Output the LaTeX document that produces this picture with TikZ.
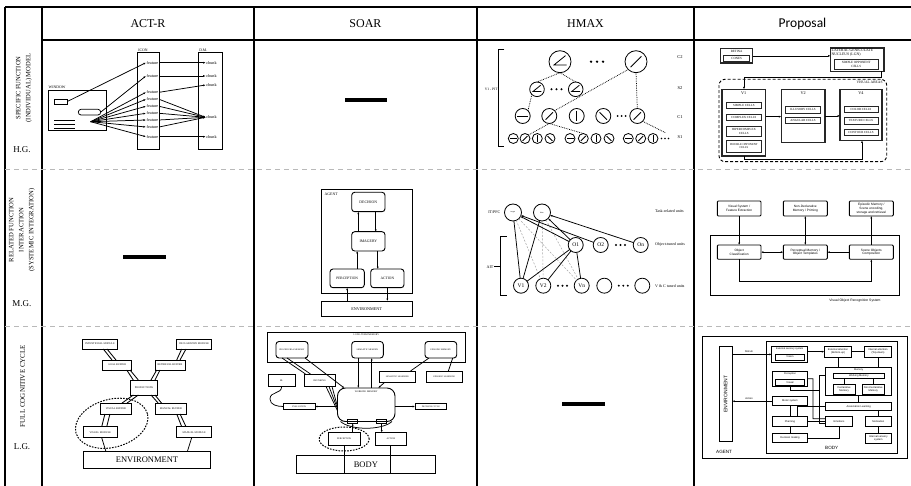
\documentclass[tikz,border=0pt]{standalone}
\usepackage{fontspec}
\setmainfont{Liberation Serif}
\newfontfamily\sansfam{Liberation Sans}
\newfontfamily\headfam{Carlito}
\usetikzlibrary{calc,arrows.meta,shapes.geometric}

\newcommand{\fs}[2]{\fontsize{#1}{#2}\selectfont}
\newcommand{\tinytxt}{\fs{2.6}{3}}
% box from its two corners
\newcommand{\cellbox}[7][]{%
  \node[Box,#1,minimum width={(#5-#3)*1pt},minimum height={(#6-#4)*1pt}]
    (#2) at ({(#3+#5)/2},{(#4+#6)/2}) {#7};}
% HMAX unit: name, x, y, radius, angle of the bar
\newcommand{\hunit}[5]{%
  \node[hcirc,minimum size={#4*2pt}] (#1) at (#2,#3) {};
  \draw[line width=0.8pt] ([shift={({#5}:{#4*0.7pt})}]#1.center) -- ([shift={({#5+180}:{#4*0.7pt})}]#1.center);}
\newcommand{\hangle}[4]{%
  \node[hcirc,minimum size={#4*2pt}] (#1) at (#2,#3) {};
  \draw[line width=0.8pt] ([shift={({0.5*#4pt},{0.55*#4pt})}]#1.center) -- ([shift={({-0.55*#4pt},{-0.3*#4pt})}]#1.center) -- ([shift={({0.6*#4pt},{-0.3*#4pt})}]#1.center);}
\newcommand{\dotrow}[4]{%
  \foreach \jj in {-1,0,1} \fill ({#1+\jj*#3},#2) circle [radius=#4pt];}

\tikzset{
  Box/.style={draw, inner sep=0pt, outer sep=0pt, align=center, line width=0.75pt, font=\tinytxt},
  RBox/.style={Box, rounded corners=3pt},
  DBox/.style={Box, line width=1.1pt, draw=black!85},
  SBox/.style={Box, rounded corners=1pt, line width=0.9pt, font=\sansfam\fs{3.2}{3.7}},
  PBox/.style={Box, line width=0.8pt, font=\sansfam\fs{2.6}{3}},
  hcirc/.style={circle, draw, inner sep=0pt, outer sep=0pt, line width=0.8pt},
  Conn/.style={line width=0.75pt},
  arr/.style={Conn, -{Latex[length=2.4pt,width=2pt]}},
  arrb/.style={Conn, {Latex[length=2.4pt,width=2pt]}-{Latex[length=2.4pt,width=2pt]}},
  Dot/.style={densely dotted, line width=0.75pt},
  Grid/.style={line width=1.2pt},
  RowSep/.style={gray!55, line width=0.7pt, dash pattern=on 5pt off 4pt},
  RowLbl/.style={rotate=90, align=center, inner sep=0pt, font=\fs{6.6}{10}},
  Lvl/.style={inner sep=0pt, font=\fs{9}{10}},
  Bar/.style={fill=black},
}

\begin{document}
\begin{tikzpicture}[x=1pt,y=-1pt]
\useasboundingbox (0,0) rectangle (911,486);

% table
\draw[Grid] (5,7) -- (911,7);
\foreach \x in {5,42,254,477,694} \draw[Grid] (\x,7) -- (\x,486);
\draw[Grid] (42,40) -- (911,40);
\draw[RowSep] (5,169) -- (911,169);
\draw[RowSep] (5,326) -- (911,326);

\node[font=\fs{12}{13}] (hdACTR) at (148,24) {ACT-R};
\node[font=\fs{12}{13}] (hdSOAR) at (365.5,24) {SOAR};
\node[font=\fs{12}{13}] (hdHMAX) at (585.5,24) {HMAX};
\node[font=\headfam\fs{13.5}{15}] (hdProp) at (802.5,24) {Proposal};

\node[RowLbl] (rlSpec) at (24,88) {SPECIFIC FUNCTION\\(INDIVIDUAL) MODEL};
\node[Lvl] (lvHG) at (22,150) {H.G.};
\node[RowLbl] (rlRel) at (22,230) {RELATED FUNCTION\\INTERACTION\\(SYSTEMIC INTEGRATION)};
\node[Lvl] (lvMG) at (22,304) {M.G.};
\node[RowLbl, font=\fs{7}{9}] (rlFull) at (22.5,386) {FULL COGNITIVE CYCLE};
\node[Lvl] (lvLG) at (22,447) {L.G.};

% ACT-R, specific function
\node[anchor=south west, inner sep=0pt, font=\fs{3.8}{4}] (arWinL) at (48.5,88.5) {WINDOW};
\cellbox[line width=0.9pt]{arWin}{48.3}{90}{106.7}{130.7}{}
\cellbox{arWinA}{54}{99}{67.3}{104}{}
\cellbox[rounded corners=2.8pt]{arWinB}{78.3}{109.3}{100.7}{115}{}
\foreach \y in {120.7,124.3,128.3} \draw[Conn] (54,\y) -- (75,\y);
\coordinate (arFan) at (90.7,121.7);
\cellbox[line width=0.9pt]{arIcon}{137.3}{52.7}{159}{149.3}{}
\node[anchor=south west, inner sep=0.8pt, font=\fs{3.8}{4}] (arIconL) at (arIcon.north west) {ICON};
\cellbox[line width=0.9pt]{arDM}{198.3}{52.7}{222.3}{149.3}{}
\node[anchor=south west, inner sep=0.8pt, font=\fs{3.8}{4}] (arDML) at (arDM.north west) {D.M.};
\foreach [count=\i] \y in {62.7,76,92.3,99.3,106.3,113.3,120,127,136.7}
  \node[inner sep=0.6pt, font=\fs{4.2}{4.5}] (arF\i) at (152.5,\y) {feature};
\foreach [count=\i] \y in {62.7,76,85,117.3,136.7}
  \node[inner sep=0.6pt, font=\fs{4.2}{4.5}] (arC\i) at (211.5,\y) {chunk};
\draw[arr] (arWinA.east) -- (arF1.west);
\draw[arr] (arWinB.east) -- (arF2.west);
\foreach \i in {3,...,9} \draw[arr] (arFan) -- (arF\i.west);
\draw[arr] (arF1.east) -- (arC1.west);
\draw[arr] (arF2.east) -- (arC2.west);
\draw[arr] (arF3.east) -- (arC3.west);
\foreach \i in {4,...,8} \draw[arr] (arF\i.east) -- (arC4.west);
\draw[arr] (arF9.east) -- (arC5.west);

% SOAR, specific function
\fill[Bar] (345,98.5) rectangle (387.3,102);

% HMAX, specific function
\draw[Conn] (504.3,49.3) -- (498.3,49.3) -- (498.3,146.7) -- (504.3,146.7);
\node[anchor=east, inner sep=0.5pt, font=\fs{3.6}{4}] (hmPit) at (498.3,89.3) {V1 - PIT};
\hangle{hC2a}{560}{61.7}{11}
\hunit{hC2b}{636}{61.7}{11}{45}
\dotrow{597}{61.7}{6}{1.3}
\hangle{hS2a}{537}{89.3}{7.3}
\hangle{hS2b}{575.7}{89.3}{7.3}
\dotrow{556.5}{89.3}{5}{1.1}
\hunit{hC1a}{522.7}{116}{7.5}{0}
\hunit{hC1b}{549.3}{116}{7.5}{45}
\hunit{hC1c}{576.7}{116}{7.5}{90}
\hunit{hC1d}{603.3}{116}{7.5}{135}
\dotrow{621.5}{116}{4}{1}
\hunit{hC1e}{637.3}{116}{7.5}{45}
\foreach [count=\i] \x/\a in {513.3/0,525/45,537.3/90,550/135,570/0,583.3/45,596/90,609/135,628.3/0,640.7/45,653/90}
  {\hunit{hS1n\i}{\x}{138.5}{5}{\a}}
\dotrow{665}{138.5}{3.5}{0.9}
\draw[Dot] (hC2a.south) -- (hS2a.north);
\draw[Dot] (hC2a.south) -- (hS2b.north);
\draw[Dot] (hS2a.south west) -- (hC1a.north east);
\draw[Dot] (hC1b.north east) -- (hC2b.south west);
\draw[Dot] (hC2b.south) -- (hC1e.north);
\draw[Dot] (hS1n2.north east) -- (hC1b.south);
\draw[Dot] (hS1n6.north) -- (hC1b.south);
\draw[Dot] (hC1e.south east) -- (666,133);
\foreach \t/\y in {C2/57.5,S2/88.5,C1/116.7,S1/136.7}
  \node[inner sep=0pt, font=\fs{4.5}{5}] (hL\t) at (680,\y) {\t};

% Proposal, specific function
\cellbox[DBox]{prRet}{720.5}{48.8}{752.8}{63}{}
\node[below, inner sep=1.2pt, font=\fs{3.2}{3.5}] (prRetL) at (prRet.north) {RETINA};
\cellbox[DBox,line width=0.9pt,font=\fs{3.2}{3.5}]{prCon}{723.5}{55.8}{749.8}{61}{CONES}
\cellbox[DBox]{prLgn}{830.5}{48}{884}{71.5}{}
\node[below right, inner sep=1pt, align=left, font=\fs{3.8}{4.2}] (prLgnL) at (prLgn.north west) {LATERAL GENICULATE\\NUCLEUS (LGN)};
\cellbox[DBox,line width=0.9pt,font=\fs{3.2}{3.6}]{prSop}{834}{59.5}{878.5}{69.3}{SIMPLE OPPONENT\\CELLS}
\draw[arr] (prRet.east) -- (prRet.east -| prLgn.west);
\cellbox[dashed, line width=0.9pt, dash pattern=on 3pt off 2pt, rounded corners=6pt]{prVA}{719}{79.3}{886.7}{161.7}{}
\node[anchor=north east, inner sep=0.8pt, font=\fs{3.6}{4}] (prVAL) at (883.5,80.5) {VISUAL AREAS};
\cellbox[DBox]{prV1}{722}{89.3}{765.5}{156}{}
\node[below, inner sep=1.8pt, font=\fs{4.2}{4.5}] (prV1L) at (prV1.north) {V1};
\cellbox[DBox,line width=0.9pt,font=\fs{3.1}{3.5}]{prSC}{726.7}{102.7}{761}{108.7}{SIMPLE CELLS}
\cellbox[DBox,line width=0.9pt,font=\fs{3.1}{3.5}]{prCC}{726.7}{114.7}{761}{120.7}{COMPLEX CELLS}
\cellbox[DBox,line width=0.9pt,font=\fs{3.1}{3.5}]{prHC}{726.7}{126}{761}{136.5}{HIPERCOMPLEX\\CELLS}
\cellbox[DBox,line width=0.9pt,font=\fs{2.9}{3.5}]{prDO}{726.7}{140}{761}{152}{DOUBLE OPPONENT\\CELLS}
\cellbox[DBox]{prV2}{781.3}{89.3}{825}{142.5}{}
\node[below, inner sep=1.8pt, font=\fs{4.2}{4.5}] (prV2L) at (prV2.north) {V2};
\cellbox[DBox,line width=0.9pt,font=\fs{3.1}{3.5}]{prIC}{785.5}{106.5}{820.5}{113}{ILLUSORY CELLS}
\cellbox[DBox,line width=0.9pt,font=\fs{3.1}{3.5}]{prAC}{785.5}{117.3}{820.5}{123.3}{ANGULAR CELLS}
\cellbox[DBox]{prV4}{840}{89.3}{882}{140.5}{}
\node[below, inner sep=1.8pt, font=\fs{4.2}{4.5}] (prV4L) at (prV4.north) {V4};
\cellbox[DBox,line width=0.9pt,font=\fs{3.1}{3.5}]{prCol}{844}{106}{878}{112.5}{COLOR CELLS}
\cellbox[DBox,line width=0.9pt,font=\fs{3.1}{3.5}]{prTex}{844}{117.5}{878}{124}{TEXTURE CELLS}
\cellbox[DBox,line width=0.9pt,font=\fs{3.1}{3.5}]{prCon2}{844}{129}{878}{135.5}{CONTOUR CELLS}
\coordinate (prK1) at (881.5,77.3);
\coordinate (prK2) at (744,77.3);
\draw[arr] (prK1 |- prLgn.south) -- (prK1) -- (prK2) -- (prK2 |- prV1.north);
\draw[arr] ([yshift=6pt]prV1.east) -- ([yshift=6pt]prV1.east -| prV2.west);
\draw[arr] (prV2.east) -- (prV2.east -| prV4.west);
\coordinate (prK3) at (744,159.3);
\coordinate (prK4) at (862,159.3);
\draw[arr] (prK3 |- prV1.south) -- (prK3) -- (prK4) -- (prK4 |- prV4.south);

% ACT-R, related function
\fill[Bar] (123.3,255.3) rectangle (166,259);

% SOAR, related function
\cellbox[line width=0.9pt]{saAgent}{321}{189.3}{412.3}{293.3}{}
\node[anchor=north west, inner sep=0pt, font=\fs{3.8}{4}] (saAgentL) at (324.5,193) {AGENT};
\cellbox[RBox,line width=0.9pt,font=\fs{3.8}{4}]{saDec}{351.7}{192.3}{385}{211.7}{DECISION}
\cellbox[RBox,line width=0.9pt,font=\fs{3.8}{4}]{saImg}{351.7}{231.7}{385}{251}{IMAGERY}
\cellbox[RBox,line width=0.9pt,font=\fs{3.6}{4}]{saPer}{330}{269}{364.3}{287.7}{PERCEPTION}
\cellbox[RBox,line width=0.9pt,font=\fs{3.6}{4}]{saAct}{370.7}{269}{404}{287.7}{ACTION}
\cellbox[line width=0.9pt,font=\fs{4.2}{4.5}]{saEnv}{321}{301}{412.3}{316.7}{ENVIRONMENT}
\draw[arr] ([xshift=-10pt]saImg.north) -- ([xshift=-10pt]saImg.north |- saDec.south);
\draw[arr] ([xshift=7.4pt]saDec.south) -- ([xshift=7.4pt]saDec.south |- saImg.north);
\draw[arr] ([xshift=10pt]saPer.north) -- ([xshift=10pt]saPer.north |- saImg.south);
\draw[arr] ([xshift=-9.6pt]saAct.north |- saImg.south) -- ([xshift=-9.6pt]saAct.north);
\draw[arr] (saPer.south |- saEnv.north) -- (saPer.south);
\draw[arr] (saAct.south) -- (saAct.south |- saEnv.north);

% HMAX, related function
\node[hcirc, minimum size=17pt, font=\fs{2}{2.2}] (hmIT1) at (513,212.5) {target};
\node[hcirc, minimum size=17pt, font=\fs{2}{2.2}] (hmIT2) at (542,212.5) {distr.};
\foreach \n/\x/\t in {O1/575.7/O1,O2/600.7/O2,On/640.7/On}
  \node[hcirc, minimum size=15pt, font=\fs{5.5}{6}] (hm\n) at (\x,245) {\t};
\foreach \n/\x/\t in {V1/521/V1,V2/543.3/V2,Vn/581.7/Vn,Va/604.3/,Vb/642.3/}
  \node[hcirc, minimum size=15pt, font=\fs{5.5}{6}] (hm\n) at (\x,285.7) {\t};
\dotrow{620.5}{245}{4.5}{1.1}
\dotrow{562.5}{285.7}{4.5}{1.1}
\dotrow{623.3}{285.7}{4.5}{1.1}
\foreach \a/\b in {hmIT1/hmV2,hmIT1/hmVn,hmIT1/hmO1,hmIT2/hmV2,hmIT2/hmVn}
  \draw[gray!70, line width=0.5pt, dash pattern=on 2pt off 1.5pt] (\a) -- (\b);
\draw[Conn] (hmV1) -- (hmIT1);
\draw[Conn] (hmV1) -- (hmIT2);
\draw[Conn] (hmV1) -- (hmO1);
\draw[Conn] (hmV2) -- (hmO1);
\draw[Conn] (hmO1) -- (hmVn);
\draw[arr] (hmO1) -- (hmIT1);
\draw[arr] (hmO1) -- (hmIT2);
\draw[arr] (hmO2) -- (hmIT1);
\draw[arr] (hmOn) -- (hmIT2);
\node[anchor=east, inner sep=0.5pt, font=\fs{4}{4.5}] (hmItL) at (501,212) {IT/PFC};
\node[anchor=west, inner sep=0pt, font=\fs{4}{4.5}] (hmTask) at (655,211) {Task-related units};
\node[anchor=west, inner sep=0pt, font=\fs{4}{4.5}] (hmObj) at (655,245) {Object-tuned units};
\node[anchor=west, inner sep=0pt, font=\fs{4}{4.5}] (hmVC) at (655,285.7) {V \& C tuned units};
\draw[Conn] (506.7,236) -- (500.7,236) -- (500.7,295.7) -- (506.7,295.7);
\node[anchor=east, inner sep=0.5pt, font=\fs{4}{4.5}] (hmAit) at (494,266.7) {AIT};
\draw[Conn] (hmAit.east) -- (500.7,266.7);

% Proposal, related function
\cellbox[SBox]{pvVis}{717.3}{201}{761}{216}{Visual System /\\Feature Extraction}
\cellbox[SBox]{pvNon}{783.3}{201}{827.3}{216}{Non-Declarative\\Memory / Priming}
\cellbox[SBox]{pvEpi}{849.3}{201}{893.3}{216}{Episodic Memory /\\Scene encoding,\\storage and retrieval}
\cellbox[line width=0.9pt]{pvSys}{710.7}{235}{899}{295}{}
\cellbox[SBox]{pvObj}{717.3}{245}{761}{259.3}{Object\\Classification}
\cellbox[SBox]{pvPer}{783.3}{245}{827.3}{259.3}{Perceptual Memory /\\Object Templates}
\cellbox[SBox]{pvScn}{849.3}{245}{893.3}{259.3}{Scene Objects\\Composition}
\node[inner sep=0pt, font=\sansfam\fs{3.4}{4}] (pvSysL) at (855,300.5) {Visual Object Recognition System};
\draw[arr] (pvVis) -- (pvObj);
\draw[arrb] (pvPer) -- (pvNon);
\draw[arr] (pvScn) -- (pvEpi);
\draw[arrb] (pvObj) -- (pvPer);
\draw[arr] (pvScn) -- (pvPer);
\coordinate (pvLoop) at (805,281.7);
\draw[arr] (pvObj.south) |- (pvLoop) -| (pvScn.south);

% ACT-R, full cycle
\cellbox[line width=0.9pt]{acInt}{82.7}{339}{117.3}{349}{INTENTIONAL MODULE}
\cellbox[line width=0.9pt]{acDec}{176.7}{339}{211.7}{349}{DECLARATIVE MODULE}
\cellbox[line width=0.9pt]{acGoal}{102.7}{360}{131.7}{370}{GOAL BUFFER}
\cellbox[line width=0.9pt]{acRet}{155}{360}{185}{370}{RETRIEVAL BUFFER}
\cellbox[line width=0.9pt]{acProd}{130.7}{380}{157.3}{395}{PRODUCTIONS}
\cellbox[line width=0.9pt]{acVB}{100}{403.3}{131.7}{414}{VISUAL BUFFER}
\cellbox[line width=0.9pt]{acMB}{155}{403.3}{186.7}{414}{MANUAL BUFFER}
\cellbox[line width=0.9pt]{acVM}{83.3}{426.7}{117.3}{437.7}{VISUAL MODULE}
\cellbox[line width=0.9pt]{acMM}{176.7}{426.7}{211.7}{437.7}{MANUAL MODULE}
\cellbox[line width=0.9pt,font=\fs{8.5}{9}]{acEnv}{83.3}{451.7}{210.7}{468.3}{ENVIRONMENT}
\foreach \a/\p/\q/\b/\r/\s in {acInt/3.3/7/acGoal/-5.2/-1.2, acDec/-12.5/-8.2/acRet/6.7/10,
    acGoal/9.5/12.8/acProd/-10.7/-5.7, acRet/-13.3/-10/acProd/7/11,
    acProd/-10.7/-5.7/acVB/5.9/10.9, acProd/7/11/acMB/-12.5/-9.2,
    acVB/-10.9/-5.9/acVM/1.4/6.4, acMB/5.9/9.2/acMM/-12.5/-8.2}
  \draw[line width=0.85pt] ([xshift=\p pt]\a.south) -- ([xshift=\r pt]\b.north)
                           ([xshift=\q pt]\a.south) -- ([xshift=\s pt]\b.north);
\draw[Conn] ([xshift=1.4pt]acVM.south) -- ([xshift=-41pt]acEnv.north);
\draw[Conn] ([xshift=-2.5pt]acMM.south) -- ([xshift=40.3pt]acEnv.north);
\draw[line width=1pt, dash pattern=on 1.6pt off 1.3pt, rotate around={15:(111.7,423.3)}]
  (111.7,423.3) ellipse [x radius=37pt, y radius=24pt];

% SOAR, full cycle
\cellbox[line width=0.9pt]{scLTM}{267.7}{332.3}{465}{362}{}
\node[below, inner sep=1.5pt, font=\fs{2.4}{3}] (scLTML) at (scLTM.north) {LONG-TERM MEMORY};
\cellbox[RBox,line width=0.9pt,font=\fs{2.2}{2.6}]{scProc}{276}{341.5}{308}{358}{PROCEDURAL MEMORY}
\cellbox[RBox,line width=0.9pt,font=\fs{2.2}{2.6}]{scSem}{351.7}{341.5}{383.3}{358}{SEMANTIC MEMORY}
\cellbox[RBox,line width=0.9pt,font=\fs{2.2}{2.6}]{scEpi}{425}{341.5}{456.7}{358}{EPISODIC MEMORY}
\cellbox[line width=0.9pt,font=\fs{2.4}{2.8}]{scRL}{268.3}{374}{295}{386.5}{RL}
\cellbox[line width=0.9pt,font=\fs{2.4}{2.8}]{scChk}{304}{374}{335}{386.5}{CHUNKING}
\cellbox[line width=0.9pt,font=\fs{2.2}{2.6}]{scSL}{379.5}{371}{415.5}{382.5}{SEMANTIC LEARNING}
\cellbox[line width=0.9pt,font=\fs{2.2}{2.6}]{scEL}{426.7}{371}{462}{382.5}{EPISODIC LEARNING}
\cellbox[rounded corners=8pt,line width=0.9pt]{scWM}{337.5}{388}{395}{421.5}{}
\node[below, inner sep=2.5pt, font=\fs{2.4}{3}] (scWML) at (scWM.north) {WORKING MEMORY};
\cellbox[line width=0.9pt,font=\fs{2.2}{2.6}]{scEval}{283.3}{403.7}{315}{409.3}{EVALUATION}
\cellbox[line width=0.9pt,font=\fs{2.2}{2.6}]{scDC}{415}{403.7}{446.7}{409.3}{DECISION CYCLE}
\cellbox[line width=0.9pt]{scPin}{347.7}{419.3}{357.7}{423.3}{}
\cellbox[line width=0.9pt]{scPout}{376.7}{419.3}{386.7}{423.3}{}
\cellbox[line width=0.9pt,font=\fs{2.3}{2.6}]{scPer}{328.3}{432.5}{360}{445.5}{PERCEPTION}
\cellbox[line width=0.9pt,font=\fs{2.3}{2.6}]{scAct}{375}{432.5}{406.7}{445.5}{ACTION}
\cellbox[line width=0.9pt,font=\fs{8.5}{9}]{scBody}{296.7}{455.3}{435}{473.3}{BODY}
\draw[Conn] ([xshift=-10pt]scProc.south) -- ([xshift=-14pt]scChk.north);
\draw[Conn] ([xshift=-5pt]scProc.south) -- ([xshift=-9pt]scChk.north);
\draw[arr] ([xshift=13pt]scProc.south) -- ([xshift=-22pt]scWM.north);
\foreach \s/\t in {-9/-6,-6/-4,-3/-2}
  \draw[Conn] ([xshift=\s pt]scChk.south east) -- ([yshift=\t pt]scWM.west);
\draw[arr] ([xshift=-9.2pt]scSem.south) -- ([xshift=-9.2pt]scSem.south |- scWM.north);
\draw[arr] ([xshift=4.2pt]scSem.south |- scWM.north) -- ([xshift=4.2pt]scSem.south);
\draw[Conn] ([xshift=4pt]scEpi.south west) -- ([xshift=-5pt]scSL.north east);
\draw[Conn] ([xshift=-4pt]scEpi.south east) -- ([xshift=4pt]scEL.north);
\draw[arr] ([xshift=5pt]scSL.south west) -- ([xshift=12pt]scWM.north);
\draw[Conn] (scRL.south) .. controls +(0,-8pt) and +(0,8pt) .. (270,399)
  .. controls +(0,-6pt) and +(-6pt,0) .. (scEval.west);
\draw[arr] (scWM.west |- scEval.east) -- (scEval.east);
\draw[arr] (scWM.east |- scDC.west) -- (scDC.west);
\draw[Conn] ([xshift=3pt]scWM.south west) .. controls +(10pt,-9pt) and +(-10pt,-9pt) .. ([xshift=-3pt]scWM.south east);
\draw[arr] (scPer.north -| scPin.south) -- (scPin.south);
\draw[arr] (scPout.south) -- (scPout.south |- scAct.north);
\draw[Conn] (scPer.south) -- (scPer.south |- scBody.south);
\draw[Conn] (scAct.south) -- (scAct.south |- scBody.south);
\draw[line width=1pt, dash pattern=on 1.6pt off 1.3pt] (scPer.center) ellipse [x radius=25pt, y radius=12pt];

% HMAX, full cycle
\fill[Bar] (562.3,402.3) rectangle (605,406);

% Proposal, full cycle
\cellbox[line width=0.8pt]{pcAgent}{702.5}{336}{907}{458}{}
\node[anchor=west, inner sep=0pt, font=\sansfam\fs{4.6}{5}] (pcAgentL) at (716,451.5) {AGENT};
\cellbox[line width=0.8pt]{pcEnv}{719}{346.7}{732.3}{441.7}{}
\node[rotate=90, inner sep=0pt, font=\sansfam\fs{5}{5.5}] (pcEnvL) at (pcEnv.center) {ENVIRONMENT};
\cellbox[line width=0.9pt]{pcBody}{766.7}{341.7}{897.7}{453.3}{}
\node[inner sep=0pt, font=\sansfam\fs{4.6}{5}] (pcBodyL) at (831.7,448.3) {BODY};
\cellbox[PBox]{pcExt}{771.7}{346}{807.7}{362.7}{}
\node[below, inner sep=1.2pt, font=\sansfam\fs{2.5}{3}] (pcExtL) at (pcExt.north) {External sensory system};
\cellbox[PBox]{pcVis}{775.7}{354}{804.3}{360}{Vision}
\cellbox[PBox]{pcEA}{824.3}{346}{851.7}{357.3}{External attention\\(Bottom-up)}
\cellbox[PBox]{pcIA}{864.3}{346}{891.7}{357.3}{Internal attention\\(Top-down)}
\cellbox[PBox]{pcPer}{772.3}{371}{807.7}{386.7}{}
\node[below, inner sep=1.5pt, font=\sansfam\fs{2.5}{3}] (pcPerL) at (pcPer.north) {Perception};
\cellbox[PBox]{pcVisl}{775.7}{379.3}{804.3}{385}{Visual}
\cellbox[PBox]{pcMem}{825.7}{367.3}{891.7}{395.7}{}
\node[below, inner sep=0.8pt, font=\sansfam\fs{2.5}{3}] (pcMemL) at (pcMem.north) {Memory};
\cellbox[PBox]{pcWM}{833.3}{373.3}{884.3}{378.3}{Working Memory}
\cellbox[PBox]{pcDM}{833.3}{384}{855}{394}{Declarative\\Memory}
\cellbox[PBox]{pcND}{862.3}{384}{884.3}{394}{Non-Declarative\\Memory}
\cellbox[PBox]{pcMot}{772.3}{396.7}{807.7}{405.7}{Motor system}
\cellbox[PBox]{pcAL}{825.7}{402.7}{891.7}{410}{Association Learning}
\cellbox[PBox]{pcPlan}{772.3}{416.7}{807.7}{426}{Planning}
\cellbox[PBox]{pcEmo}{825.7}{416.7}{852.3}{426}{Emotions}
\cellbox[PBox]{pcMotv}{865}{416.7}{891.7}{426}{Motivation}
\cellbox[PBox]{pcDec}{772.3}{433.3}{807.7}{442.7}{Decision making}
\cellbox[PBox]{pcISS}{865}{433.3}{891.7}{443.3}{Internal sensory\\system}
\draw[arr] (pcEnv.east |- pcExt.west) -- (pcExt.west)
  node[pos=0.42, above, inner sep=1pt, font=\sansfam\fs{2.6}{3}] (pcStim) {Stimuli};
\draw[arr] (pcMot.west) -- (pcMot.west -| pcEnv.east)
  node[pos=0.58, above, inner sep=1pt, font=\sansfam\fs{2.6}{3}] (pcActL) {Action};
\draw[arr] (pcExt.east |- pcEA.west) -- (pcEA.west);
\draw[Conn] (pcEA.east) -- (pcIA.west);
\draw[Conn] (pcEA.south) -- (pcEA.south |- pcMem.north);
\draw[Conn] (pcIA.south) -- (pcIA.south |- pcMem.north);
\draw[Conn] (pcDM.north |- pcWM.south) -- (pcDM.north);
\draw[Conn] (pcND.north |- pcWM.south) -- (pcND.north);
\draw[Conn] (pcMem.south) -- (pcMem.south |- pcAL.north);
\draw[Conn] (pcMot.south) -- (pcPlan.north);
\draw[Conn] (pcPlan.south) -- (pcDec.north);
\draw[Conn] (pcPlan.east) -- (pcEmo.west);
\draw[Conn] (pcDec.east) -| (pcEmo.south);
\draw[Conn] (pcMotv.south) -- (pcISS.north);
\draw[Conn] (pcAL.south -| pcMotv.north) -- (pcMotv.north);
\draw[Conn] (pcAL.west) -| ([xshift=7pt]pcPlan.north);
\coordinate (pcJ1) at (813,378.85);
\draw[Conn] (pcPer.east) -- (pcJ1) |- ([yshift=2.5pt]pcEmo.west);
\coordinate (pcJ2) at (819,390.5);
\draw[Conn] (pcVisl.south) |- (pcJ2) |- ([yshift=-2.5pt]pcEmo.west);
\draw[Conn] ([yshift=6pt]pcMem.west) -- ++(-6pt,0) |- (pcAL.west);
\end{tikzpicture}
\end{document}
